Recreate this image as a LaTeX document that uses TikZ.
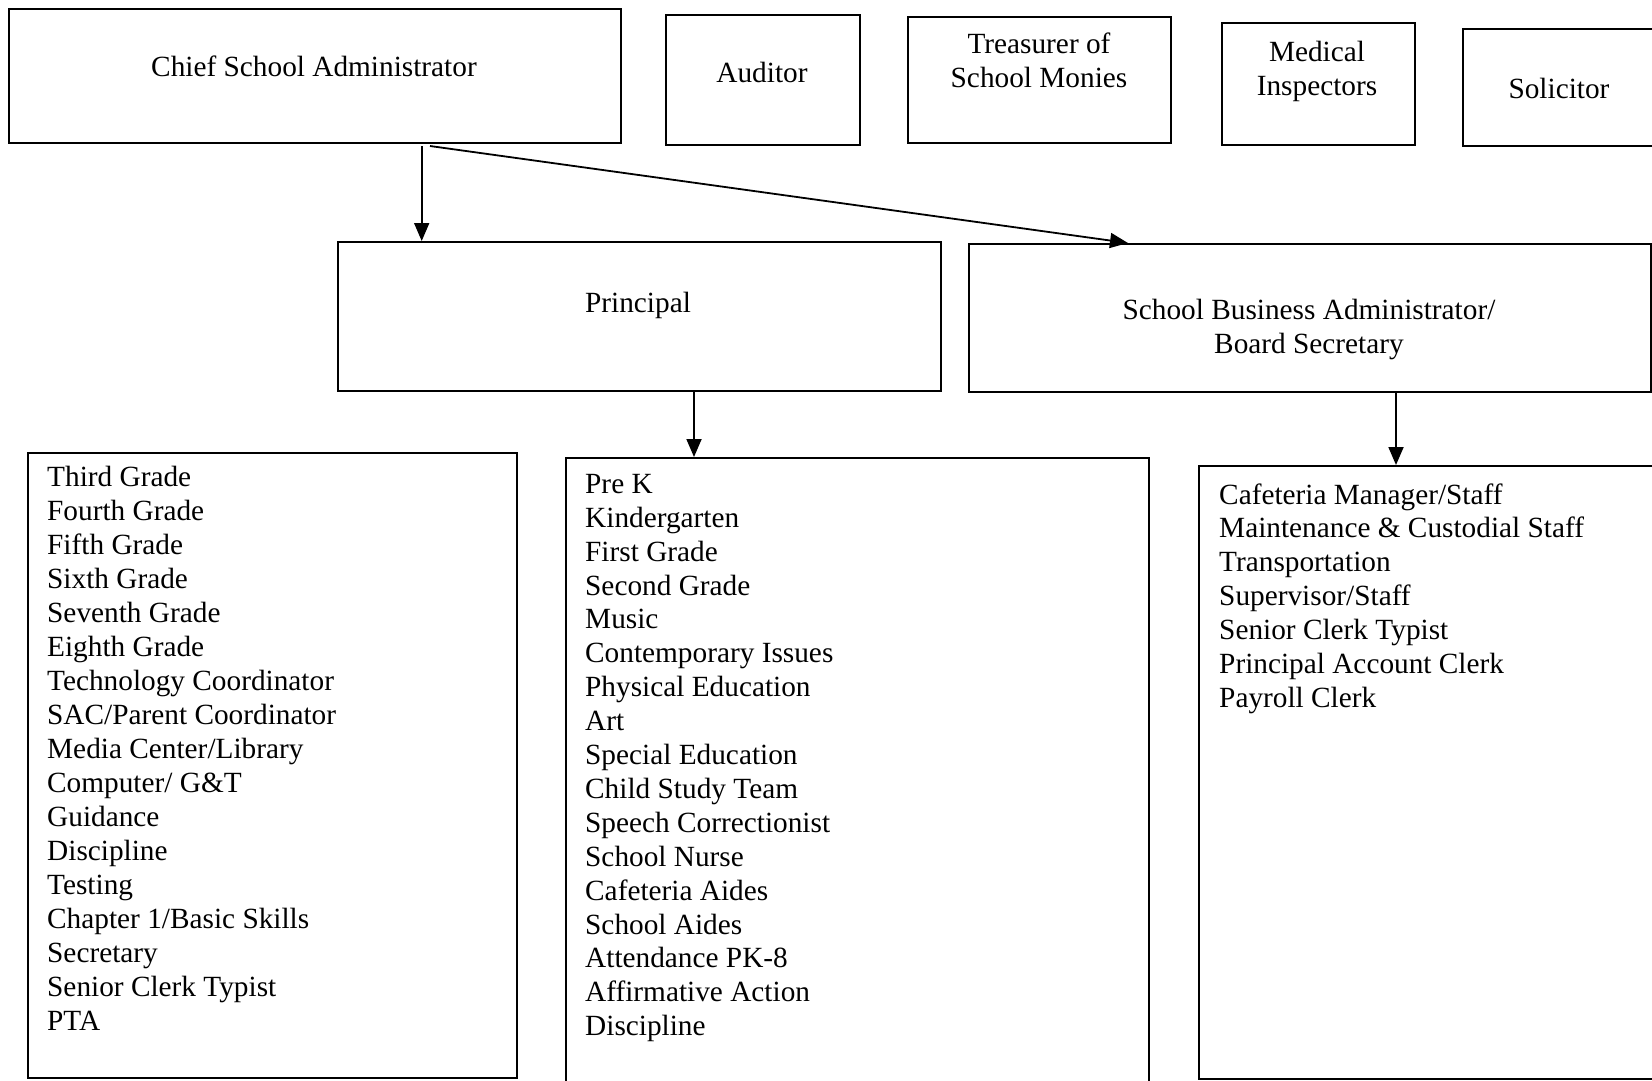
\documentclass[tikz,border=0pt]{standalone}
\usepackage{fontspec}
\setmainfont{Liberation Serif}
\usetikzlibrary{arrows.meta}
\begin{document}
\begin{tikzpicture}[x=1pt,y=-1pt,
  box/.style={draw, line width=1.8pt, inner sep=0pt, anchor=north west},
  lbl/.style={font=\fontsize{29.3}{34}\selectfont, inner sep=0pt, anchor=base},
  item/.style={font=\fontsize{29.3}{34}\selectfont, inner sep=0pt, anchor=base west},
  conn/.style={line width=1.8pt, -{Triangle[length=18pt,width=15pt]}}]
\useasboundingbox (0,0) rectangle (1652,1080);
% top row
\node[box, minimum width=612pt, minimum height=134pt] (csa) at (8,8) {};
\node[box, minimum width=194pt, minimum height=130pt] (aud) at (665,14) {};
\node[box, minimum width=263pt, minimum height=126pt] (tre) at (907,16) {};
\node[box, minimum width=193pt, minimum height=122pt] (med) at (1221,22) {};
\node[box, minimum width=250pt, minimum height=117pt] (sol) at (1462,28) {};
\node[lbl] (csaT) at (314,76) {Chief School Administrator};
\node[lbl] (audT) at (762,82) {Auditor};
\node[lbl] (treT1) at (1039,53) {Treasurer of};
\node[lbl] (treT2) at (1039,87) {School Monies};
\node[lbl] (medT1) at (1317,61) {Medical};
\node[lbl] (medT2) at (1317,95) {Inspectors};
\node[lbl] (solT) at (1559,98) {Solicitor};
% second row
\node[box, minimum width=603pt, minimum height=149pt] (pri) at (337,241) {};
\node[box, minimum width=682pt, minimum height=148pt] (sba) at (968,243) {};
\node[lbl] (priT) at (638,312) {Principal};
\node[lbl] (sbaT1) at (1309,319) {School Business Administrator/};
\node[lbl] (sbaT2) at (1309,353) {Board Secretary};
% lists
\node[box, minimum width=489pt, minimum height=625pt] (lst1) at (27,452) {};
\node[box, minimum width=583pt, minimum height=650pt] (lst2) at (565,457) {};
\node[box, minimum width=500pt, minimum height=613pt] (lst3) at (1198,465) {};
\foreach \t [count=\i] in {Third Grade, Fourth Grade, Fifth Grade, Sixth Grade, Seventh Grade, Eighth Grade, Technology Coordinator, SAC/Parent Coordinator, Media Center/Library, Computer/ G\&T, Guidance, Discipline, Testing, Chapter 1/Basic Skills, Secretary, Senior Clerk Typist, PTA}
  \node[item] (A\i) at (47,{486.7+34*(\i-1)}) {\t};
\foreach \t [count=\i] in {Pre K, Kindergarten, First Grade, Second Grade, Music, Contemporary Issues, Physical Education, Art, Special Education, Child Study Team, Speech Correctionist, School Nurse, Cafeteria Aides, School Aides, Attendance PK-8, Affirmative Action, Discipline}
  \node[item] (B\i) at (585,{493.3+33.9*(\i-1)}) {\t};
\foreach \t [count=\i] in {Cafeteria Manager/Staff, Maintenance \& Custodial Staff, Transportation, Supervisor/Staff, Senior Clerk Typist, Principal Account Clerk, Payroll Clerk}
  \node[item] (C\i) at (1219,{504+33.9*(\i-1)}) {\t};
% connectors
\coordinate (a1) at (421.7,146);
\coordinate (a2s) at (430,146);
\coordinate (a2e) at (1128,243);
\coordinate (a3) at (694,390);
\coordinate (a4) at (1396,391);
\draw[conn] (a1) -- (a1 |- pri.north);
\draw[conn] (a2s) -- (a2e);
\draw[conn] (a3) -- (a3 |- lst2.north);
\draw[conn] (a4) -- (a4 |- lst3.north);
\end{tikzpicture}
\end{document}
